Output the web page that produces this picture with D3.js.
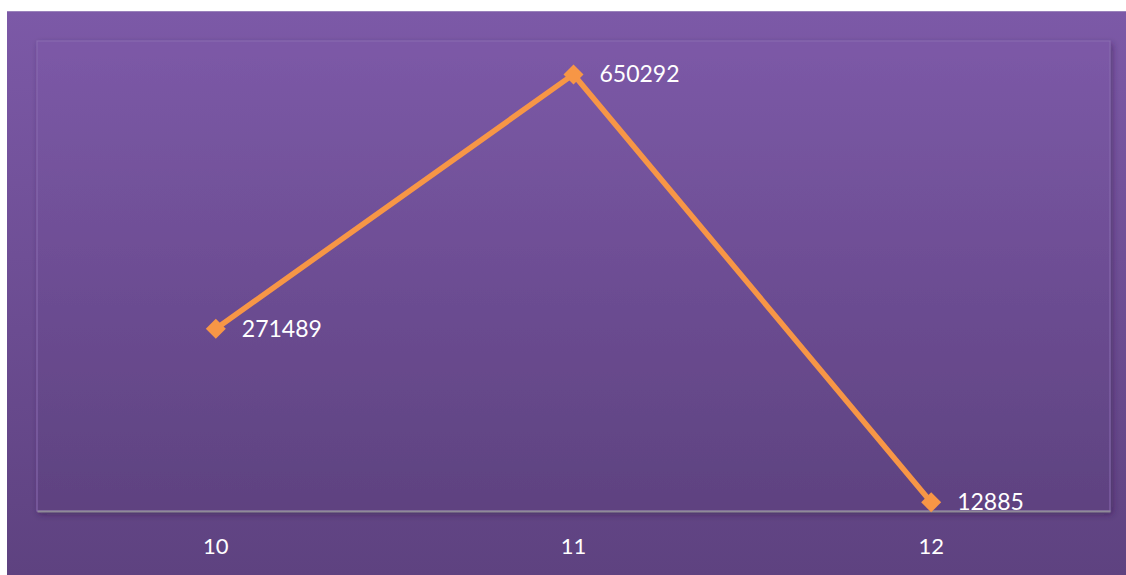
<!DOCTYPE html>
<html>
<head>
<meta charset="utf-8">
<script src="https://cdn.jsdelivr.net/npm/d3@7"></script>
<style>
  html, body { margin: 0; padding: 0; background: #fff; }
  svg { display: block; }
</style>
</head>
<body>
<div id="chart"></div>
<script>
const categories = ["10", "11", "12"];
const values = [271489, 650292, 12885];
const yDomain = [0, 700000];

const width = 1126, height = 575;
const plot = { left: 37, top: 41, right: 1110, bottom: 511 };

const svg = d3.select("#chart")
    .append("svg")
    .attr("width", width)
    .attr("height", height)
    .style("font-family", "Lato, 'Open Sans', sans-serif");

const defs = svg.append("defs");

const bg = defs.append("linearGradient")
    .attr("id", "bg")
    .attr("x1", 0).attr("y1", 0).attr("x2", 0).attr("y2", 1);
bg.append("stop").attr("offset", "0%").attr("stop-color", "#7c59a7");
bg.append("stop").attr("offset", "100%").attr("stop-color", "#5e4280");

const shadow = defs.append("filter")
    .attr("id", "shadow")
    .attr("x", "-5%").attr("y", "-5%").attr("width", "110%").attr("height", "110%");
shadow.append("feDropShadow")
    .attr("dx", 2).attr("dy", 3).attr("stdDeviation", 3)
    .attr("flood-color", "#2a1a40").attr("flood-opacity", 0.45);

// outer background
svg.append("rect")
    .attr("x", 7).attr("y", 11)
    .attr("width", width - 7).attr("height", height - 11)
    .attr("fill", "url(#bg)");
svg.append("line")
    .attr("x1", 7).attr("x2", width).attr("y1", 11.5).attr("y2", 11.5)
    .attr("stroke", "#9a82bb").attr("stroke-width", 1);

// plot area
svg.append("rect")
    .attr("x", plot.left).attr("y", plot.top)
    .attr("width", plot.right - plot.left).attr("height", plot.bottom - plot.top)
    .attr("fill", "url(#bg)")
    .attr("stroke", "#8a6cb1")
    .attr("stroke-width", 1)
    .attr("filter", "url(#shadow)");

const x = d3.scaleBand()
    .domain(categories)
    .range([plot.left, plot.right]);

const y = d3.scaleLinear()
    .domain(yDomain)
    .range([plot.bottom, plot.top]);

// x axis
const xAxis = svg.append("g")
    .attr("transform", `translate(0,${plot.bottom})`)
    .call(d3.axisBottom(x).tickSize(0).tickPadding(27));
xAxis.select(".domain")
    .attr("stroke", "#8f8a98")
    .attr("stroke-width", 2);
xAxis.selectAll("text")
    .attr("fill", "#ffffff")
    .style("font-family", "Lato, 'Open Sans', sans-serif")
    .style("font-size", "22px");

const pts = categories.map((c, i) => ({ c, v: values[i] }));

// line
svg.append("path")
    .datum(pts)
    .attr("fill", "none")
    .attr("stroke", "#f79646")
    .attr("stroke-width", 5.5)
    .attr("stroke-linejoin", "miter")
    .attr("d", d3.line()
        .x(d => x(d.c) + x.bandwidth() / 2)
        .y(d => y(d.v)));

// diamond markers
svg.selectAll("path.marker")
    .data(pts)
    .enter()
    .append("path")
    .attr("class", "marker")
    .attr("d", d3.symbol().type(d3.symbolSquare).size(200))
    .attr("transform", d => `translate(${x(d.c) + x.bandwidth() / 2},${y(d.v)}) rotate(45)`)
    .attr("fill", "#f79646");

// value labels
svg.selectAll("text.value")
    .data(pts)
    .enter()
    .append("text")
    .attr("class", "value")
    .attr("x", d => x(d.c) + x.bandwidth() / 2 + 26)
    .attr("y", d => y(d.v) + 8)
    .attr("fill", "#ffffff")
    .style("font-size", "23px")
    .text(d => d.v);
</script>
</body>
</html>
